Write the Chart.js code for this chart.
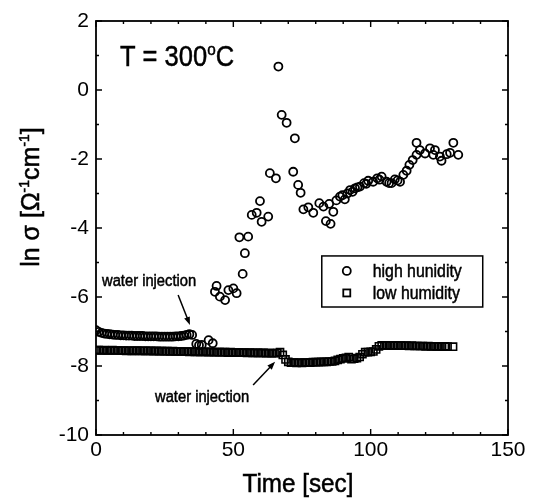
<!DOCTYPE html>
<html>
<head>
<meta charset="utf-8">
<script src="https://cdn.jsdelivr.net/npm/chart.js@4"></script>
<style>
  html, body { margin: 0; padding: 0; background: #fff; }
  canvas { display: block; }
</style>
</head>
<body>
<canvas id="chart" width="534" height="498"></canvas>
<script>
// high humidity run (circles)
const timeHigh = [
  0, 1, 2, 3, 4, 5, 6, 7, 8, 9, 10, 11, 12, 13, 14, 15, 16, 17, 18, 19,
  20, 21, 22, 23, 24, 25, 26, 27, 28, 29, 30, 31, 32, 33, 34, 35,
  36.5, 37.5, 38.5, 41, 42.5,
  43.3, 43.9, 45.1, 47, 48.2, 50, 51.2, 53.4, 54.2, 52.2, 55.4, 56.7, 58.5, 60.3, 62.7, 59.7,
  63.3, 65.5, 66.4, 67.6, 69.4, 72.4, 71.8, 73.6, 74.5,
  75.5, 77.3, 79.1, 81.3, 82.8, 84.9, 86.4, 83.7, 85.4, 87.5, 88.8, 89.7, 90.6, 91.5, 92.5,
  93.4, 94.3, 95.2, 96.1, 97.6, 98.4, 99.1, 100.9, 102.4, 103.2, 104, 105.8, 106.7, 107.6,
  108.8, 109.8, 110.7, 111.9, 113.1, 114.1, 115.3, 116.7, 116.7, 117.9, 119.8, 121.6, 123.4,
  122.8, 125.2, 125.8, 127.7, 128.9, 130.1, 131.9
];
const lnHigh = [
  -6.96, -7.01, -7.04, -7.06, -7.07, -7.08, -7.09, -7.10, -7.10, -7.11,
  -7.11, -7.12, -7.12, -7.12, -7.13, -7.13, -7.13, -7.13, -7.14, -7.14,
  -7.14, -7.14, -7.14, -7.15, -7.15, -7.15, -7.15, -7.15, -7.15, -7.14,
  -7.14, -7.13, -7.12, -7.10, -7.08, -7.10,
  -7.36, -7.40, -7.39, -7.25, -7.34,
  -5.85, -5.68, -5.99, -6.09, -5.80, -5.75, -5.89, -5.33, -4.73, -4.27, -4.25, -3.62, -3.56, -3.82, -3.67, -3.22,
  -2.41, -2.56, 0.68, -0.72, -0.95, -1.40, -2.37, -2.75, -2.98,
  -3.46, -3.40, -3.56, -3.28, -3.38, -3.30, -3.53, -3.80, -3.88, -3.20, -3.09, -3.05, -3.17, -3.00, -2.90,
  -2.95, -2.85, -2.82, -2.80, -2.70, -2.72, -2.63, -2.66, -2.56, -2.60, -2.51, -2.66, -2.70, -2.70,
  -2.59, -2.62, -2.66, -2.46, -2.34, -2.17, -2.03, -1.88, -1.53, -1.74, -1.84, -1.69, -1.74,
  -1.88, -1.93, -2.05, -1.86, -1.82, -1.53, -1.88
];

// low humidity run (squares), one reading per second
const timeLow = [
  0, 1, 2, 3, 4, 5, 6, 7, 8, 9, 10, 11, 12, 13, 14, 15, 16, 17, 18, 19,
  20, 21, 22, 23, 24, 25, 26, 27, 28, 29, 30, 31, 32, 33, 34, 35, 36, 37, 38, 39,
  40, 41, 42, 43, 44, 45, 46, 47, 48, 49, 50, 51, 52, 53, 54, 55, 56, 57, 58, 59,
  60, 61, 62, 63, 64, 65, 66, 67, 68, 69, 70, 71, 72, 73, 74, 75, 76, 77, 78, 79,
  80, 81, 82, 83, 84, 85, 86, 87, 88, 89, 90, 91, 92, 93, 94, 95, 96, 97, 98, 99,
  100, 101, 102, 103, 104, 105, 106, 107, 108, 109, 110, 111, 112, 113, 114, 115, 116, 117, 118, 119,
  120, 121, 122, 123, 124, 125, 126, 127, 128, 130
];
const lnLow = [
  -7.54, -7.54, -7.55, -7.54, -7.55, -7.55, -7.54, -7.55, -7.55, -7.55,
  -7.55, -7.56, -7.55, -7.56, -7.56, -7.55, -7.56, -7.56, -7.56, -7.56,
  -7.56, -7.57, -7.56, -7.57, -7.57, -7.57, -7.57, -7.58, -7.57, -7.58,
  -7.58, -7.58, -7.58, -7.58, -7.59, -7.58, -7.59, -7.59, -7.59, -7.59,
  -7.59, -7.60, -7.59, -7.60, -7.60, -7.60, -7.60, -7.60, -7.61, -7.60,
  -7.61, -7.61, -7.61, -7.61, -7.61, -7.62, -7.61, -7.62, -7.62, -7.62,
  -7.62, -7.62, -7.63, -7.62, -7.63, -7.63, -7.62, -7.60, -7.68, -7.81,
  -7.88, -7.90, -7.90, -7.91, -7.90, -7.91, -7.90, -7.90, -7.90, -7.89,
  -7.89, -7.89, -7.88, -7.88, -7.88, -7.87, -7.87, -7.85, -7.82, -7.80,
  -7.78, -7.76, -7.74, -7.80, -7.79, -7.77, -7.74, -7.66, -7.60, -7.60,
  -7.59, -7.58, -7.52, -7.43, -7.40, -7.40, -7.40, -7.40, -7.41, -7.40,
  -7.41, -7.41, -7.41, -7.41, -7.42, -7.41, -7.42, -7.42, -7.42, -7.42,
  -7.43, -7.42, -7.43, -7.43, -7.43, -7.43, -7.44, -7.43, -7.44, -7.44
];

const xTicks = [0, 50, 100, 150];
const yTicks = [-10, -8, -6, -4, -2, 0, 2];
const seriesNames = ["high hunidity", "low humidity"];

const FONT = "'Liberation Sans', Arial, sans-serif";

function toPoints(xs, ys) {
  return xs.map((t, i) => ({ x: t, y: ys[i] }));
}

// text squeezed horizontally, like the scanned figure
function narrowText(ctx, str, x, y, size, sx, align) {
  ctx.save();
  ctx.font = size + "px " + FONT;
  const w = ctx.measureText(str).width * sx;
  let left = x;
  if (align === "center") left = x - w / 2;
  ctx.translate(left, y);
  ctx.scale(sx, 1);
  ctx.textAlign = "left";
  ctx.lineWidth = 0.5;
  ctx.fillText(str, 0, 0);
  ctx.strokeText(str, 0, 0);
  ctx.restore();
  return w;
}

function arrow(ctx, x1, y1, x2, y2) {
  const ang = Math.atan2(y2 - y1, x2 - x1);
  ctx.beginPath();
  ctx.moveTo(x1, y1);
  ctx.lineTo(x2 - 5 * Math.cos(ang), y2 - 5 * Math.sin(ang));
  ctx.stroke();
  ctx.beginPath();
  ctx.moveTo(x2, y2);
  ctx.lineTo(x2 - 8 * Math.cos(ang) + 3 * Math.sin(ang), y2 - 8 * Math.sin(ang) - 3 * Math.cos(ang));
  ctx.lineTo(x2 - 8 * Math.cos(ang) - 3 * Math.sin(ang), y2 - 8 * Math.sin(ang) + 3 * Math.cos(ang));
  ctx.closePath();
  ctx.fill();
}

const framePlugin = {
  id: "framePlugin",
  afterDatasetsDraw(chart) {
    const { ctx, chartArea: a, scales: { x, y } } = chart;
    ctx.save();
    ctx.strokeStyle = "#000";
    ctx.fillStyle = "#000";
    ctx.lineWidth = 1.8;
    ctx.strokeRect(a.left, a.top, a.right - a.left, a.bottom - a.top);

    // inward ticks on all four sides
    ctx.lineWidth = 1.4;
    ctx.beginPath();
    for (let v = x.min; v <= x.max; v += 10) {
      const px = x.getPixelForValue(v);
      const len = v % 50 === 0 ? 6 : 3;
      ctx.moveTo(px, a.bottom); ctx.lineTo(px, a.bottom - len);
      ctx.moveTo(px, a.top); ctx.lineTo(px, a.top + len);
    }
    for (let v = y.min; v <= y.max; v += 1) {
      const py = y.getPixelForValue(v);
      const len = v % 2 === 0 ? 6 : 3;
      ctx.moveTo(a.left, py); ctx.lineTo(a.left + len, py);
      ctx.moveTo(a.right, py); ctx.lineTo(a.right - len, py);
    }
    ctx.stroke();

    // axis titles
    ctx.textBaseline = "alphabetic";
    narrowText(ctx, "Time [sec]", (a.left + a.right) / 2 - 4, 492, 25, 0.97, "center");

    ctx.save();
    ctx.translate(39, 197);
    ctx.rotate(-Math.PI / 2);
    ctx.lineWidth = 0.5;
    const parts = [["ln σ [Ω", false], ["-1", true], ["cm", false], ["-1", true], ["]", false]];
    let total = 0;
    parts.forEach(p => { ctx.font = (p[1] ? 14 : 25) + "px " + FONT; total += ctx.measureText(p[0]).width; });
    let cx = -total / 2;
    parts.forEach(p => {
      ctx.font = (p[1] ? 14 : 25) + "px " + FONT;
      ctx.fillText(p[0], cx, p[1] ? -10 : 0);
      ctx.strokeText(p[0], cx, p[1] ? -10 : 0);
      cx += ctx.measureText(p[0]).width;
    });
    ctx.restore();

    // temperature label
    const tx = x.getPixelForValue(8.7), ty = y.getPixelForValue(0.7);
    let w = narrowText(ctx, "T = 300", tx, ty, 29, 0.88, "left");
    w += narrowText(ctx, "o", tx + w, ty - 11, 17, 0.9, "left");
    narrowText(ctx, "C", tx + w, ty, 29, 0.88, "left");

    // water injection notes
    narrowText(ctx, "water injection", x.getPixelForValue(2.2), y.getPixelForValue(-5.68), 16, 0.92, "left");
    narrowText(ctx, "water injection", x.getPixelForValue(21.5), y.getPixelForValue(-9.04), 16, 0.92, "left");
    ctx.lineWidth = 1.5;
    arrow(ctx, x.getPixelForValue(29.9), y.getPixelForValue(-5.94), x.getPixelForValue(34.2), y.getPixelForValue(-6.81));
    arrow(ctx, x.getPixelForValue(57.2), y.getPixelForValue(-8.55), x.getPixelForValue(65.2), y.getPixelForValue(-7.88));

    // legend box
    const lx1 = x.getPixelForValue(82.2), lx2 = x.getPixelForValue(140.8);
    const ly1 = y.getPixelForValue(-4.81), ly2 = y.getPixelForValue(-6.29);
    ctx.lineWidth = 1.5;
    ctx.strokeRect(lx1, ly1, lx2 - lx1, ly2 - ly1);
    const symX = lx1 + 25, textX = lx1 + 51;
    const row1 = ly1 + 15, row2 = ly1 + 37;
    ctx.lineWidth = 1.8;
    ctx.beginPath();
    ctx.arc(symX, row1, 4, 0, Math.PI * 2);
    ctx.stroke();
    ctx.strokeRect(symX - 3.5, row2 - 3.5, 7, 7);
    narrowText(ctx, seriesNames[0], textX, row1 + 6, 18, 0.88, "left");
    narrowText(ctx, seriesNames[1], textX, row2 + 6, 18, 0.88, "left");
    ctx.restore();
  }
};

new Chart(document.getElementById("chart"), {
  type: "scatter",
  data: {
    datasets: [
      {
        label: seriesNames[0],
        data: toPoints(timeHigh, lnHigh),
        pointStyle: "circle",
        pointRadius: 4,
        pointBorderWidth: 1.8,
        borderColor: "#000",
        backgroundColor: "rgba(0,0,0,0)"
      },
      {
        label: seriesNames[1],
        data: toPoints(timeLow, lnLow),
        pointStyle: "rect",
        pointRadius: 5,
        pointBorderWidth: 1.6,
        borderColor: "#000",
        backgroundColor: "rgba(0,0,0,0)"
      }
    ]
  },
  options: {
    responsive: false,
    animation: false,
    devicePixelRatio: 1,
    layout: { padding: { top: 21, right: 26, left: 0, bottom: 0 } },
    plugins: {
      legend: { display: false },
      tooltip: { enabled: false }
    },
    scales: {
      x: {
        type: "linear",
        min: 0,
        max: 150,
        grid: { display: false, drawTicks: false },
        border: { display: false },
        afterBuildTicks: s => { s.ticks = xTicks.map(v => ({ value: v })); },
        afterFit: s => { s.height = 63; },
        ticks: { color: "#000", padding: 3, maxRotation: 0, font: { family: FONT, size: 21 } }
      },
      y: {
        type: "linear",
        min: -10,
        max: 2,
        grid: { display: false, drawTicks: false },
        border: { display: false },
        afterBuildTicks: s => { s.ticks = yTicks.map(v => ({ value: v })); },
        afterFit: s => { s.width = 96; },
        ticks: { color: "#000", padding: 7, font: { family: FONT, size: 21 } }
      }
    }
  },
  plugins: [framePlugin]
});
</script>
</body>
</html>
